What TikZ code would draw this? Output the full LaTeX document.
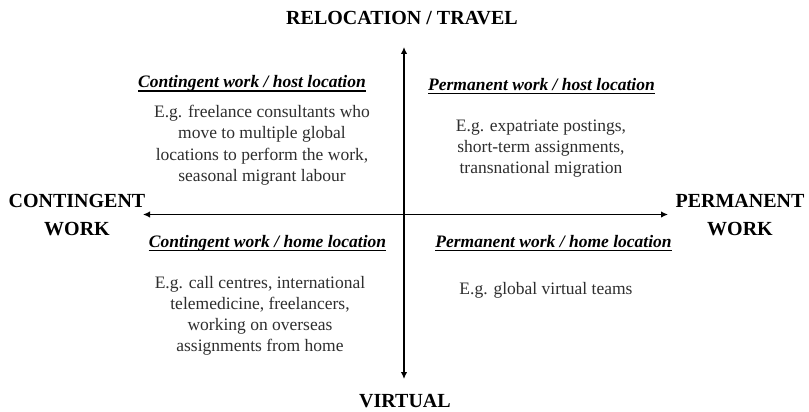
\documentclass[tikz,border=0pt]{standalone}
\usepackage{fontspec}
\setmainfont{Liberation Serif}
\usetikzlibrary{arrows.meta}
\definecolor{bodygray}{HTML}{2E2E2E}
\newcommand{\mylines}[1]{\begin{tabular}[t]{@{}c@{}}#1\end{tabular}}
\tikzset{
  axislabel/.style={font=\fontsize{20}{27.5}\selectfont\bfseries, inner sep=0pt, anchor=base},
  quadhead/.style={font=\fontsize{17.5}{20}\selectfont\bfseries\itshape, inner sep=0pt, anchor=base},
  quadbody/.style={font=\fontsize{17.5}{21.3}\selectfont, text=bodygray, inner sep=0pt, anchor=base},
  ul/.style={line width=1.2pt},
  axis/.style={line width=1.8pt, {Latex[length=7pt,width=6.5pt]}-{Latex[length=7pt,width=6.5pt]}}
}
\begin{document}
\begin{tikzpicture}[x=1pt,y=-1pt]
\useasboundingbox (0,0) rectangle (809,412);
\coordinate (top) at (404,47);
\coordinate (bot) at (404,379);
\coordinate (lft) at (143,214.5);
\coordinate (rgt) at (668,214.5);
\draw[axis] (bot) -- (top);
\draw[axis] (lft) -- (rgt);
\node[axislabel] (ttl) at (402,25) {RELOCATION / TRAVEL};
\node[axislabel] (vir) at (405,407.5) {VIRTUAL};
\node[axislabel] (con) at (77,207.5) {\mylines{CONTINGENT\\WORK}};
\node[axislabel] (per) at (740,207.5) {\mylines{PERMANENT\\WORK}};
\node[quadhead] (h1) at (252,88) {Contingent work / host location};
\node[quadhead] (h2) at (541.5,90.5) {Permanent work / host location};
\node[quadhead] (h3) at (267.5,247.5) {Contingent work / home location};
\node[quadhead] (h4) at (553.5,247.5) {Permanent work / home location};
\foreach \h in {h1,h2,h3,h4}
  \draw[ul] ([yshift=-3pt]\h.base west) -- ([yshift=-3pt]\h.base east);
\node[quadbody] (b1) at (262,117.5) {\mylines{E.g. freelance consultants who\\move to multiple global\\locations to perform the work,\\seasonal migrant labour}};
\node[quadbody] (b2) at (541,131) {\mylines{E.g. expatriate postings,\\short-term assignments,\\transnational migration}};
\node[quadbody] (b3) at (260,288) {\mylines{E.g. call centres, international\\telemedicine, freelancers,\\working on overseas\\assignments from home}};
\node[quadbody] (b4) at (546,294) {E.g. global virtual teams};
\end{tikzpicture}
\end{document}
